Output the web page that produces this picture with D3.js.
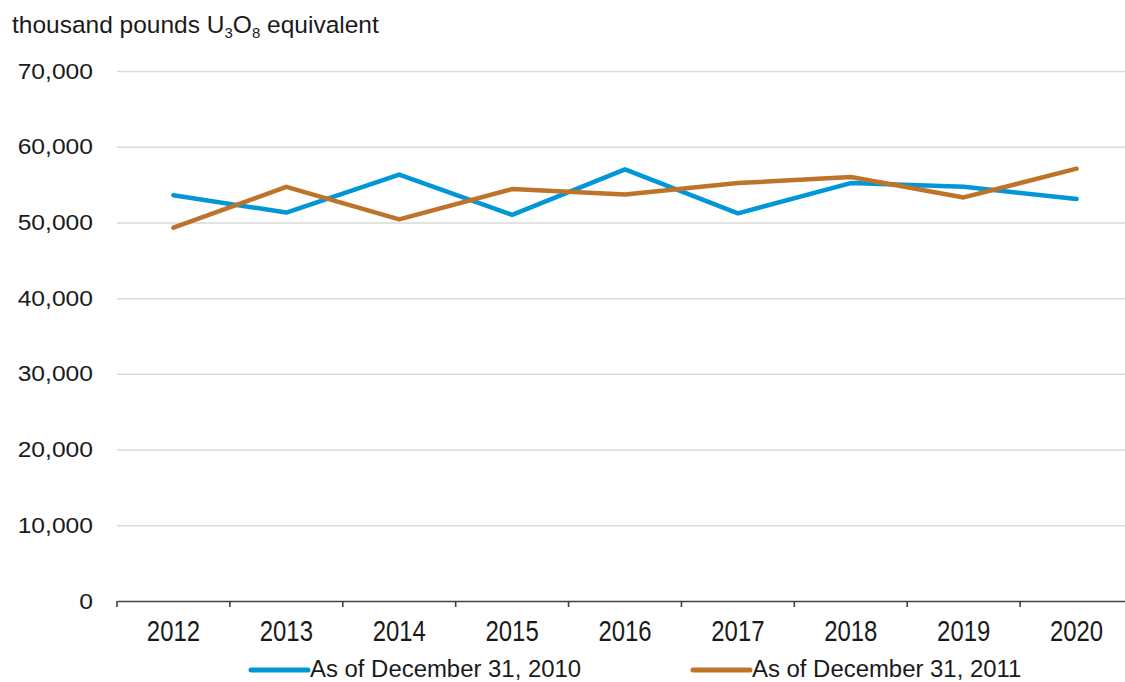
<!DOCTYPE html>
<html>
<head>
<meta charset="utf-8">
<script src="https://cdn.jsdelivr.net/npm/d3@7"></script>
<style>
  body { margin: 0; background: #fff; }
  svg { display: block; font-family: "Liberation Sans", Arial, sans-serif; }
</style>
</head>
<body>
<div id="chart"></div>
<script>
// data
const years = ["2012", "2013", "2014", "2015", "2016", "2017", "2018", "2019", "2020"];
const asOf2010 = [53600, 51300, 56300, 51000, 57000, 51200, 55200, 54700, 53100];
const asOf2011 = [49300, 54700, 50400, 54400, 53700, 55200, 56000, 53300, 57100];
const yTicks = [0, 10000, 20000, 30000, 40000, 50000, 60000, 70000];
const seriesNames = ["As of December 31, 2010", "As of December 31, 2011"];

const width = 1125, height = 682;
const plot = { left: 117, right: 1133, top: 71, bottom: 601 };
const colors = ["#0096d7", "#bd732a"];
const textColor = "#1a1a1a";

// squeeze/stretch glyphs so the type matches the reference proportions
function stretch(texts, sx, sy) {
  texts.each(function () {
    const t = d3.select(this);
    const x = +t.attr("x") || 0, y = +t.attr("y") || 0;
    t.attr("x", x / sx).attr("y", y / sy).attr("transform", `scale(${sx},${sy})`);
  });
}

const svg = d3.select("#chart").append("svg")
  .attr("width", width)
  .attr("height", height);

const x = d3.scaleBand()
  .domain(years)
  .range([plot.left, plot.right])
  .padding(0);

const y = d3.scaleLinear()
  .domain([0, 70000])
  .range([plot.bottom, plot.top]);

// ---------- gridlines + y labels ----------
const yAxis = svg.append("g")
  .attr("transform", `translate(${plot.left},0)`)
  .call(d3.axisLeft(y)
    .tickValues(yTicks)
    .tickSize(-(plot.right - plot.left))
    .tickPadding(24)
    .tickFormat(d3.format(",")));

yAxis.select(".domain").remove();
yAxis.selectAll(".tick line")
  .attr("stroke", "#d9d9d9")
  .attr("stroke-width", 1.5)
  .filter(d => d === 0).remove();
yAxis.selectAll(".tick text")
  .attr("fill", textColor)
  .style("font-size", "22px");
stretch(yAxis.selectAll(".tick text"), 1.12, 1);

// ---------- x axis ----------
const xAxis = svg.append("g")
  .attr("transform", `translate(0,${plot.bottom})`)
  .call(d3.axisBottom(x).tickSize(0));

xAxis.select(".domain")
  .attr("stroke", "#404040")
  .attr("stroke-width", 1.6);
xAxis.selectAll(".tick text")
  .attr("fill", textColor)
  .attr("dy", 0)
  .attr("y", 40)
  .style("font-size", "26px");
stretch(xAxis.selectAll(".tick text"), 0.92, 1.12);

// tick marks sit between the categories
const boundaries = years.map(d => x(d)).concat([x.range()[1]]);
xAxis.append("g")
  .selectAll("line")
  .data(boundaries)
  .join("line")
  .attr("x1", d => d)
  .attr("x2", d => d)
  .attr("y1", 0)
  .attr("y2", 6)
  .attr("stroke", "#404040")
  .attr("stroke-width", 1.6);

// ---------- lines ----------
const line = d3.line()
  .x((d, i) => x(years[i]) + x.bandwidth() / 2)
  .y(d => y(d));

svg.append("g")
  .selectAll("path")
  .data([asOf2010, asOf2011])
  .join("path")
  .attr("d", line)
  .attr("fill", "none")
  .attr("stroke", (d, i) => colors[i])
  .attr("stroke-width", 4.5)
  .attr("stroke-linejoin", "round")
  .attr("stroke-linecap", "round");

// ---------- unit label ----------
const title = svg.append("text")
  .attr("x", 12)
  .attr("y", 33)
  .attr("fill", textColor)
  .style("font-size", "24.5px");
title.append("tspan").text("thousand pounds U");
title.append("tspan").attr("dy", 5).style("font-size", "15px").text("3");
title.append("tspan").attr("dy", -5).text("O");
title.append("tspan").attr("dy", 5).style("font-size", "15px").text("8");
title.append("tspan").attr("dy", -5).text(" equivalent");
stretch(title, 1.0, 1);

// ---------- legend ----------
const legendX = [251, 693];
const legend = svg.append("g")
  .selectAll("g")
  .data(seriesNames)
  .join("g")
  .attr("transform", (d, i) => `translate(${legendX[i]},0)`);

legend.append("line")
  .attr("x1", 0)
  .attr("x2", 57)
  .attr("y1", 670)
  .attr("y2", 670)
  .attr("stroke", (d, i) => colors[i])
  .attr("stroke-width", 5)
  .attr("stroke-linecap", "round");

const legendText = legend.append("text")
  .attr("x", 59)
  .attr("y", 677)
  .attr("fill", textColor)
  .style("font-size", "23px")
  .text(d => d);
stretch(legendText, 1.04, 1);
</script>
</body>
</html>
